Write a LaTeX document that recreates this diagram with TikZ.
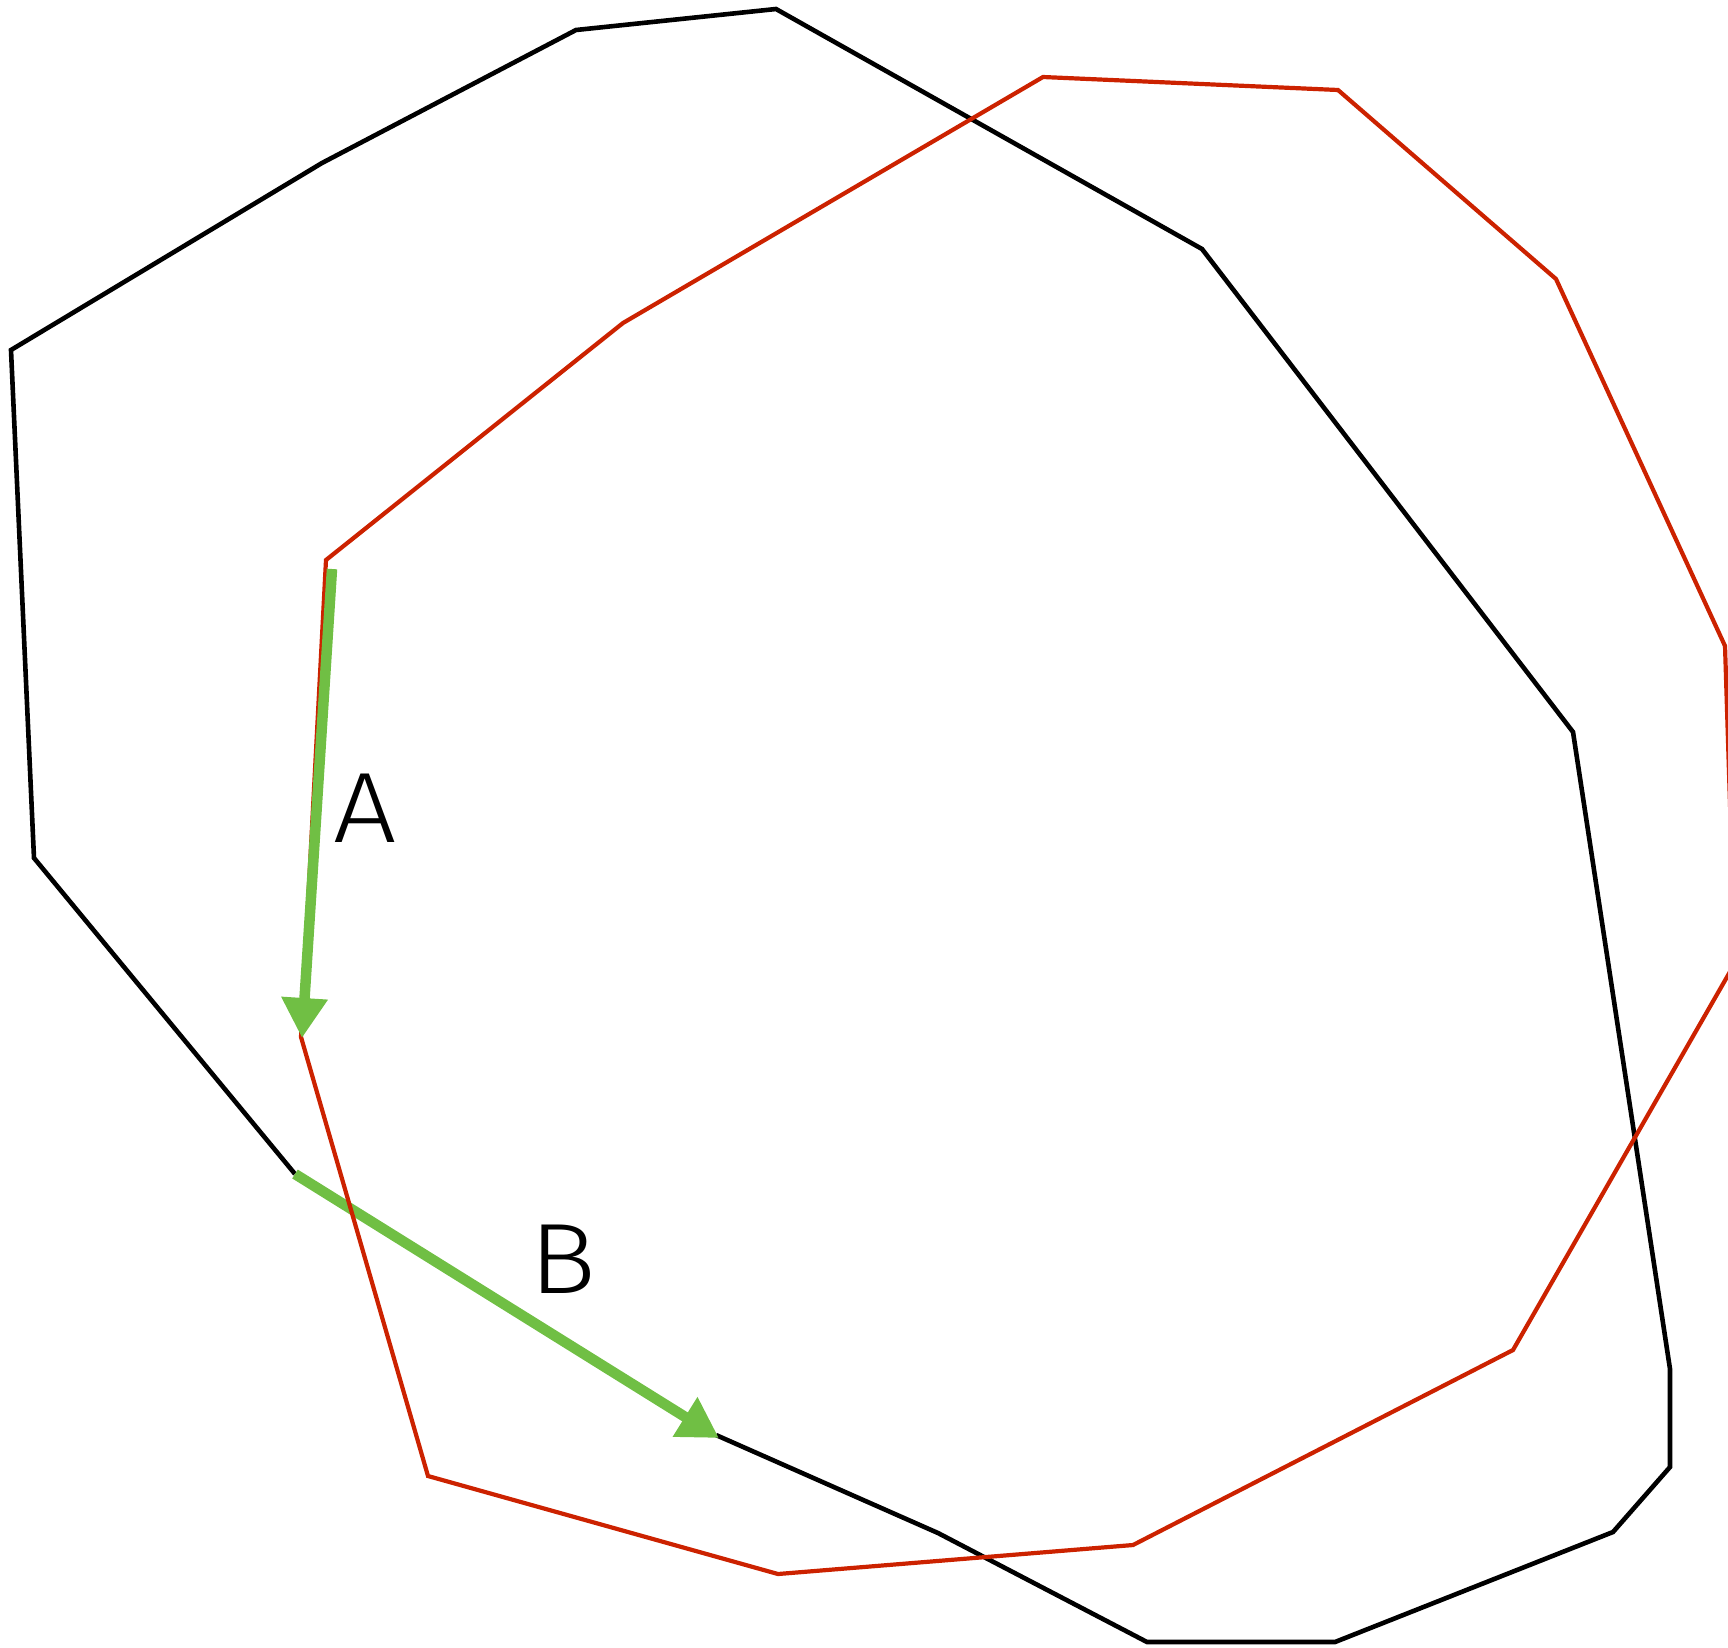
\documentclass[tikz,border=0pt]{standalone}
\usepackage{fontspec}
\setmainfont{Liberation Sans}
\newfontfamily\labfont{Fira Sans Light}
\usetikzlibrary{arrows.meta}
\definecolor{polyred}{RGB}{204,34,0}
\definecolor{arrgreen}{RGB}{112,191,68}
\tikzset{
  blackpoly/.style={draw=black,line width=4.6pt,line join=miter},
  redpoly/.style={draw=polyred,line width=4.2pt,line join=miter},
  greenarrow/.style={draw=arrgreen,line width=10.5pt,-{Triangle[length=40pt,width=44pt]}},
  lbl/.style={font=\labfont\fontsize{100}{104}\selectfont,text=black,inner sep=0pt,xscale=1.12}
}
\begin{document}
\begin{tikzpicture}[x=1pt,y=-1pt]
\useasboundingbox (0,0) rectangle (1728,1647);
\clip (0,0) rectangle (1728,1647);
% black polygon vertices
\coordinate (b1) at (295,1174);
\coordinate (b2) at (34,858);
\coordinate (b3) at (11,350);
\coordinate (b4) at (322,163);
\coordinate (b5) at (576,30);
\coordinate (b6) at (776,9);
\coordinate (b7) at (1202,249);
\coordinate (b8) at (1573,732);
\coordinate (b9) at (1670,1369);
\coordinate (b10) at (1670,1467);
\coordinate (b11) at (1613,1532);
\coordinate (b12) at (1335,1642);
\coordinate (b13) at (1147,1642);
\coordinate (b14) at (938,1533);
\coordinate (b15) at (716,1435);
% red polygon vertices
\coordinate (r1) at (326,560);
\coordinate (r2) at (623,323);
\coordinate (r3) at (1043,77);
\coordinate (r4) at (1338,90);
\coordinate (r5) at (1556,279);
\coordinate (r6) at (1725,646);
\coordinate (r7) at (1735,963);
\coordinate (r8) at (1513,1350);
\coordinate (r9) at (1133,1545);
\coordinate (r10) at (778,1574);
\coordinate (r11) at (428,1476);
\coordinate (r12) at (301,1037);
% arrow ends
\coordinate (a1) at (332,569);
\coordinate (a2) at (302,1038);
\coordinate (c1) at (295,1174);
\coordinate (c2) at (719,1438);

\draw[blackpoly] (b1) -- (b2) -- (b3) -- (b4) -- (b5) -- (b6) -- (b7) -- (b8) -- (b9) -- (b10) -- (b11) -- (b12) -- (b13) -- (b14) -- (b15);
\draw[greenarrow] (c1) -- (c2);
\draw[redpoly] (r1) -- (r2) -- (r3) -- (r4) -- (r5) -- (r6) -- (r7) -- (r8) -- (r9) -- (r10) -- (r11) -- (r12) -- cycle;
\draw[greenarrow] (a1) -- (a2);

\node[lbl] (labA) at (365,808) {A};
\node[lbl] (labB) at (563,1259) {B};
\end{tikzpicture}
\end{document}
